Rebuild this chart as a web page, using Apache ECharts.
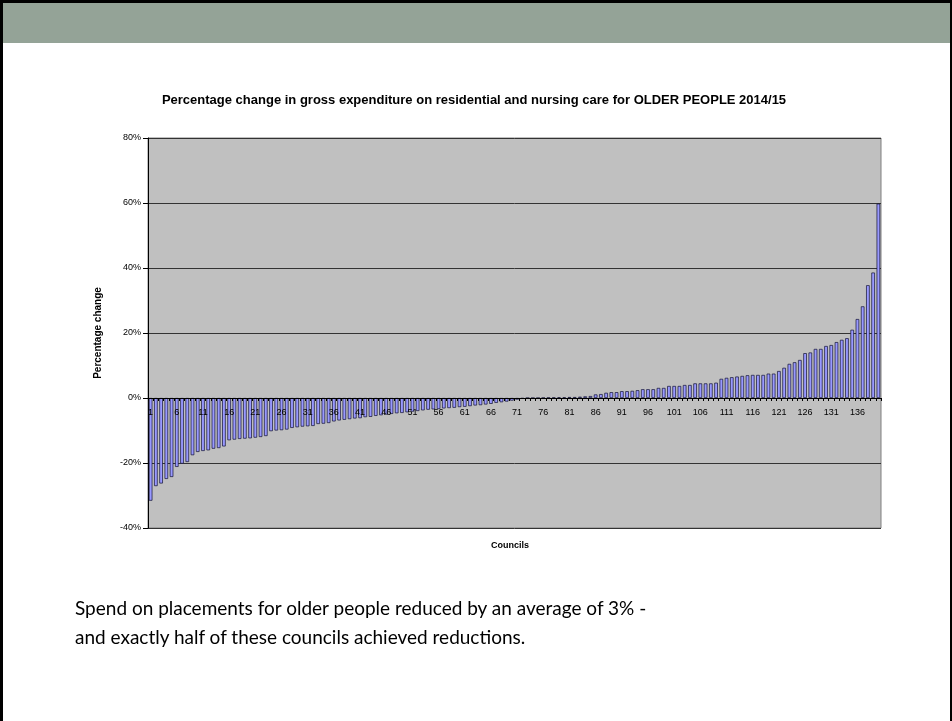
<!DOCTYPE html>
<html lang="en">
<head>
    <meta charset="UTF-8">
    <title>Older people placements</title>
    <script src="https://cdn.jsdelivr.net/npm/echarts@6.0.0/dist/echarts.min.js"></script>
    <style>
        html, body { margin: 0; padding: 0; background: #fff; }
        #slide {
            position: relative; width: 952px; height: 721px; overflow: hidden;
            box-sizing: border-box; border-left: 3px solid #000; border-top: 3px solid #000; border-right: 2px solid #000;
        }
        #band { position: absolute; left: 0; top: 0; right: 0; height: 40px; background: #94a397; }
        #main { position: absolute; left: -3px; top: -3px; width: 952px; height: 721px; }
        #note {
            position: absolute; left: 72px; top: 590px; font-family: Lato, "Open Sans", sans-serif;
            font-size: 19px; line-height: 29px; color: #000;
        }
    </style>
</head>
<body>
<div id="slide">
    <div id="band"></div>
    <div id="main"></div>
    <div id="note">Spend on placements for older people reduced by an average of 3% -<br>and exactly half of these councils achieved reductions.</div>
</div>
<script type="text/javascript">
    // councils numbered 1..140, sorted by change
    const councils = Array.from({ length: 140 }, (_, i) => String(i + 1));

    // percentage change per council
    const pctChange = [
        -31.6, -27.1, -26.3, -24.9, -24.3, -21.2, -20.2, -19.7, -17.6, -16.6,
        -16.3, -16.1, -15.6, -15.4, -14.9, -13.0, -12.8, -12.6, -12.5, -12.4,
        -12.2, -12.0, -11.7, -10.2, -10.0, -9.9, -9.7, -9.2, -9.0, -8.8,
        -8.7, -8.6, -8.0, -7.9, -7.7, -7.2, -6.9, -6.7, -6.5, -6.3,
        -6.2, -5.9, -5.8, -5.5, -5.3, -5.1, -4.9, -4.7, -4.6, -4.4,
        -4.2, -4.0, -3.8, -3.6, -3.5, -3.4, -3.2, -3.1, -3.0, -2.8,
        -2.7, -2.5, -2.3, -2.2, -2.0, -1.8, -1.5, -1.3, -1.1, -0.8,
        -0.5, -0.2, 0, 0, 0, 0.05, 0.1, 0.15, 0.2, 0.2,
        0.3, 0.3, 0.4, 0.5, 0.6, 1.1, 1.2, 1.6, 1.8, 1.8,
        2.1, 2.1, 2.2, 2.4, 2.7, 2.7, 2.7, 3.1, 3.1, 3.7,
        3.7, 3.7, 4.0, 4.0, 4.5, 4.5, 4.5, 4.5, 4.7, 5.9,
        6.2, 6.4, 6.6, 6.8, 7.0, 7.1, 7.1, 7.1, 7.5, 7.5,
        8.3, 9.3, 10.5, 11.0, 11.7, 13.8, 14.0, 15.1, 15.1, 16.0,
        16.3, 17.2, 17.9, 18.4, 21.0, 24.3, 28.2, 34.7, 38.6, 59.8
    ];

    const chartTitle = 'Percentage change in gross expenditure on residential and nursing care for OLDER PEOPLE 2014/15';

    let myChart = echarts.init(document.getElementById('main'));

    let options = {
        animation: false,
        textStyle: { fontFamily: '"Liberation Sans", Arial, sans-serif' },
        title: {
            text: chartTitle,
            left: 469, top: 89, textAlign: 'center',
            textStyle: { fontSize: 13, fontWeight: 'bold', color: '#000' }
        },
        grid: {
            left: 148, right: 71, top: 138, bottom: 193,
            show: true, backgroundColor: '#c0c0c0', borderColor: '#808080', borderWidth: 1
        },
        graphic: [
            {
                type: 'text', left: 491, top: 541,
                style: { text: 'Councils', font: 'bold 9px "Liberation Sans", Arial', fill: '#000' }
            },
            {
                type: 'text', x: 98, y: 333, rotation: Math.PI / 2,
                style: {
                    text: 'Percentage change', font: 'bold 10px "Liberation Sans", Arial', fill: '#000',
                    align: 'center', verticalAlign: 'middle'
                }
            }
        ],
        xAxis: {
            type: 'category',
            data: councils,
            position: 'bottom',
            z: 5,
            // lift the axis from the bottom edge up to the 0% line (390px plot, 40/120 of it)
            offset: -130,
            axisLine: { onZero: false, lineStyle: { color: '#000', width: 1 } },
            axisTick: { show: true, interval: 0, length: 3, lineStyle: { color: '#000' } },
            axisLabel: { interval: 4, fontSize: 9, color: '#000', margin: 10 },
            splitLine: { show: false }
        },
        yAxis: {
            type: 'value',
            min: -40, max: 80, interval: 20,
            axisLine: { show: true, lineStyle: { color: '#000' } },
            axisTick: { show: true, length: 5, lineStyle: { color: '#000' } },
            axisLabel: { formatter: '{value}%', fontSize: 9, color: '#000', margin: 7 },
            splitLine: { show: true, lineStyle: { color: '#333', width: 1 } }
        },
        series: [{
            name: 'Percentage change',
            type: 'bar',
            data: pctChange,
            barCategoryGap: '32%',
            itemStyle: { color: '#9999ff', borderColor: '#111133', borderWidth: 0.7 }
        }]
    };

    myChart.setOption(options);
</script>
</body>
</html>
